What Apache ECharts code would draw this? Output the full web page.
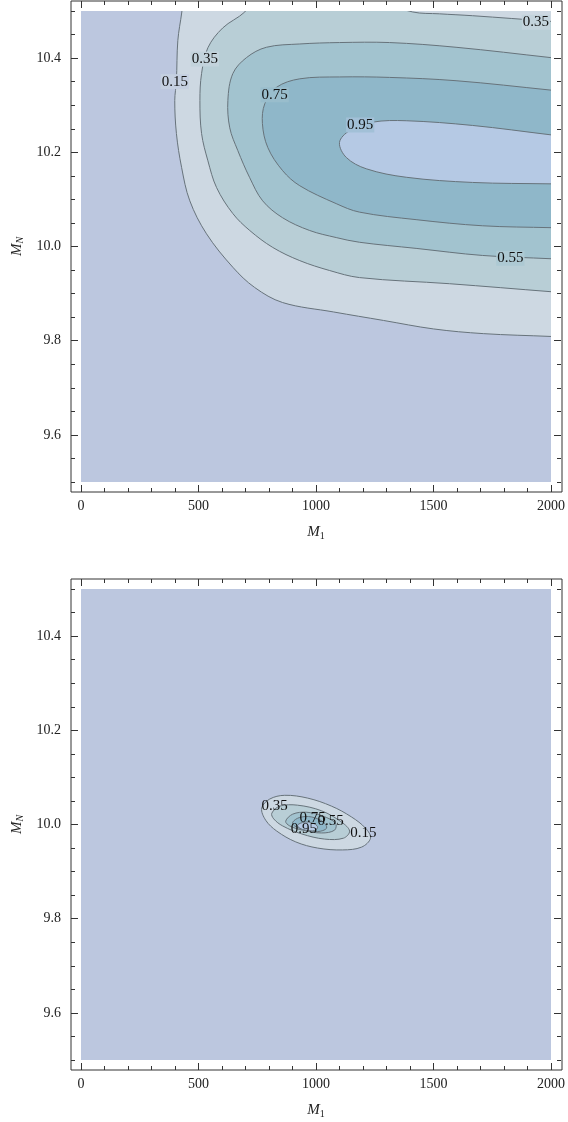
<!DOCTYPE html>
<html>
<head>
<meta charset="utf-8">
<script src="https://cdn.jsdelivr.net/npm/echarts@6/dist/echarts.min.js"></script>
<style>
  html, body { margin: 0; padding: 0; background: #fff; }
  #chart { width: 568px; height: 1122px; }
</style>
</head>
<body>
<div id="chart"></div>
<script>
// contour levels and axis ticks
const contourLevels = [0.15, 0.35, 0.55, 0.75, 0.95];
const m1MajorTicks = [0, 500, 1000, 1500, 2000];
const mnMajorTicks = [9.6, 9.8, 10.0, 10.2, 10.4];
const mnMinorTicks = [9.5, 9.55, 9.65, 9.7, 9.75, 9.85, 9.9, 9.95, 10.05, 10.1, 10.15,
  10.25, 10.3, 10.35, 10.45, 10.5];

// top panel: contour lines as [M1, MN].
// first / last points sit just past the plot edge so the clip cuts them clean
const top015 = [[433, 10.52], [429, 10.498], [412, 10.437], [406, 10.352], [399, 10.31],
  [406, 10.24], [428, 10.168], [463, 10.097], [534, 10.027], [646, 9.956], [739, 9.913],
  [858, 9.881], [1075, 9.861], [1287, 9.843], [1500, 9.825], [1712, 9.815], [2000, 9.809],
  [2030, 9.808]];
const top035 = [[720, 10.52], [697, 10.498], [603, 10.464], [540, 10.422], [513, 10.367],
  [506, 10.31], [513, 10.24], [540, 10.182], [577, 10.125], [646, 10.07], [718, 10.034],
  [816, 9.998], [931, 9.97], [1058, 9.949], [1185, 9.934], [1568, 9.921], [2000, 9.904],
  [2030, 9.903]];
const top035Corner = [[1200, 10.53], [1411, 10.498], [1525, 10.494], [1666, 10.49],
  [2000, 10.478], [2030, 10.477]];
const top055 = [[2030, 10.399], [2000, 10.401], [1596, 10.423], [1313, 10.433], [1100, 10.433],
  [931, 10.43], [789, 10.423], [704, 10.401], [646, 10.367], [625, 10.31], [633, 10.252],
  [667, 10.204], [718, 10.146], [773, 10.097], [858, 10.061], [973, 10.034], [1086, 10.019],
  [1185, 10.009], [1426, 9.996], [1708, 9.981], [2000, 9.974], [2030, 9.973]];
const top075 = [[2030, 10.33], [2000, 10.332], [1596, 10.352], [1313, 10.359], [1100, 10.36],
  [931, 10.356], [832, 10.338], [782, 10.303], [772, 10.261], [795, 10.21], [858, 10.161],
  [931, 10.129], [1086, 10.091], [1185, 10.073], [1426, 10.057], [1708, 10.044], [2000, 10.04],
  [2030, 10.04]];
const top095 = [[2030, 10.235], [2000, 10.237], [1666, 10.257], [1384, 10.267], [1241, 10.264],
  [1143, 10.246], [1100, 10.221], [1129, 10.189], [1214, 10.165], [1384, 10.147], [1666, 10.136],
  [2000, 10.133], [2030, 10.133]];
const topLabels = [[399, 10.35, 0.15], [527, 10.398, 0.35], [824, 10.322, 0.75],
  [1188, 10.258, 0.95], [1936, 10.476, 0.35], [1827, 9.975, 0.55]];

// bottom panel: closed contours
const bot015 = [[769, 10.035], [803, 10.054], [867, 10.062], [965, 10.056], [1066, 10.039],
  [1151, 10.016], [1211, 9.992], [1232, 9.971], [1194, 9.952], [1113, 9.946], [1007, 9.95],
  [914, 9.963], [833, 9.986], [786, 10.009]];
const bot035 = [[812, 10.024], [846, 10.039], [922, 10.041], [1024, 10.029], [1109, 10.005],
  [1143, 9.986], [1117, 9.971], [1037, 9.969], [939, 9.98], [858, 9.997], [820, 10.012]];
const bot055 = [[871, 10.007], [901, 10.022], [960, 10.026], [1028, 10.018], [1083, 10.003],
  [1079, 9.988], [1024, 9.982], [943, 9.988], [888, 9.997]];
const bot075 = [[901, 10.005], [931, 10.015], [981, 10.016], [1032, 10.005], [1045, 9.992],
  [1007, 9.985], [948, 9.99], [909, 9.997]];
const bot095 = [[922, 9.999], [952, 10.005], [986, 10.003], [1007, 9.995], [994, 9.987],
  [956, 9.988], [931, 9.992]];
const botLabels = [[824, 10.039, 0.35], [986, 10.014, 0.75], [1062, 10.007, 0.55],
  [948, 9.991, 0.95], [1202, 9.982, 0.15]];

// styles
const bandColors = ['#bcc7df', '#cdd8e2', '#b8ced6', '#a2c3cf', '#8fb7c9', '#b5c9e4'];
const lineColor = '#67737b';
const axisColor = '#333';
const FONT = '"Liberation Serif", "DejaVu Serif", serif';
const panelTops = [1, 579];

function mixColor(a, b) {
  const ca = [1, 3, 5].map(i => parseInt(a.substr(i, 2), 16));
  const cb = [1, 3, 5].map(i => parseInt(b.substr(i, 2), 16));
  return 'rgb(' + ca.map((v, i) => Math.round((v + cb[i]) / 2)).join(',') + ')';
}

// a contour region gets closed round the outside of the plot (clipped away later);
// the open ends are carried on in their own direction so the smoothing stays straight
const FAR_M1 = 2600, FAR_MN = 10.8;
function outward(p, q) {
  const dx = p[0] - q[0], dy = p[1] - q[1];
  const t = 0.15 / Math.max(Math.abs(dx) / 2000, Math.abs(dy), 1e-9);
  return [p[0] + dx * t, p[1] + dy * t];
}
function closeRegion(paths) {
  const out = [];
  paths.forEach((path, i) => {
    const next = paths[(i + 1) % paths.length];
    out.push(...path);
    const n = path.length;
    const a = outward(path[n - 1], path[n - 2]);
    const b = outward(next[0], next[1]);
    out.push(a);
    const aRight = a[0] > 2000 + 1e-6 && Math.abs(a[0] - path[n - 1][0]) > Math.abs(a[1] - path[n - 1][1]) * 2000;
    const bRight = b[0] > 2000 + 1e-6 && Math.abs(b[0] - next[0][0]) > Math.abs(b[1] - next[0][1]) * 2000;
    if (aRight !== bRight) out.push([FAR_M1, FAR_MN]);
    out.push(b);
  });
  return out;
}

const panels = [
  {
    regions: [
      closeRegion([top015]),
      closeRegion([top035, top035Corner.slice().reverse()]),
      closeRegion([top055]),
      closeRegion([top075]),
      closeRegion([top095])
    ],
    labels: topLabels,
    labelBg: true
  },
  {
    regions: [bot015, bot035, bot055, bot075, bot095],
    labels: botLabels,
    labelBg: false
  }
];

const grid = [], xAxis = [], yAxis = [], series = [];

const tickStyle = { color: axisColor, width: 1 };
const labelStyle = { fontFamily: FONT, fontSize: 14, color: '#222' };
const nameStyle = {
  fontFamily: FONT, fontSize: 15, color: '#222',
  rich: {
    it: { fontFamily: FONT, fontSize: 15, fontStyle: 'italic', color: '#222' },
    sub: { fontFamily: FONT, fontSize: 10, color: '#222', padding: [8, 0, 0, 0] },
    subit: { fontFamily: FONT, fontSize: 10, fontStyle: 'italic', color: '#222', padding: [8, 0, 0, 0] }
  }
};

panels.forEach((panel, p) => {
  const top = panelTops[p];
  // frame
  grid.push({ left: 71, top: top, width: 491, height: 491, show: true,
    backgroundColor: '#fff', borderColor: axisColor, borderWidth: 1 });
  // data area
  grid.push({ left: 81, top: top + 10, width: 471, height: 471, show: true,
    backgroundColor: bandColors[0], borderWidth: 0 });
  const fg = 2 * p, dg = 2 * p + 1;

  xAxis.push({ gridIndex: fg, type: 'value', show: false, min: 0, max: 1 });
  const xBase = {
    gridIndex: dg, type: 'value', min: 0, max: 2000, interval: 500, offset: 10,
    axisLine: { show: false, onZero: false },
    axisTick: { inside: true, length: 7, lineStyle: tickStyle },
    minorTick: { show: true, splitNumber: 5, length: 4, lineStyle: tickStyle },
    splitLine: { show: false }
  };
  xAxis.push(Object.assign({}, xBase, {
    position: 'bottom',
    axisLabel: Object.assign({ margin: 7, customValues: m1MajorTicks,
      formatter: v => String(v) }, labelStyle),
    name: '{it|M}{sub|1}', nameLocation: 'middle', nameGap: 31, nameTextStyle: nameStyle
  }));
  xAxis.push(Object.assign({}, xBase, { position: 'top', axisLabel: { show: false } }));

  yAxis.push({ gridIndex: fg, type: 'value', show: false, min: 0, max: 1 });
  const yBase = {
    gridIndex: dg, type: 'value', min: 9.5, max: 10.5, offset: 10,
    axisLine: { show: false, onZero: false },
    splitLine: { show: false }
  };
  yAxis.push(Object.assign({}, yBase, {
    position: 'left',
    axisTick: { inside: true, length: 7, lineStyle: tickStyle, customValues: mnMajorTicks },
    axisLabel: Object.assign({ margin: 10, customValues: mnMajorTicks,
      formatter: v => v.toFixed(1) }, labelStyle),
    name: '{it|M}{subit|N}', nameLocation: 'middle', nameGap: 43, nameTextStyle: nameStyle
  }));
  yAxis.push(Object.assign({}, yBase, {
    position: 'left', axisLabel: { show: false },
    axisTick: { inside: true, length: 4, lineStyle: tickStyle, customValues: mnMinorTicks }
  }));
  yAxis.push(Object.assign({}, yBase, {
    position: 'right', axisLabel: { show: false },
    axisTick: { inside: true, length: 7, lineStyle: tickStyle, customValues: mnMajorTicks }
  }));
  yAxis.push(Object.assign({}, yBase, {
    position: 'right', axisLabel: { show: false },
    axisTick: { inside: true, length: 4, lineStyle: tickStyle, customValues: mnMinorTicks }
  }));

  const xi = 3 * p + 1, yi = 5 * p + 1;

  panel.regions.forEach((pts, i) => {
    series.push({
      type: 'custom', xAxisIndex: xi, yAxisIndex: yi, clip: true, silent: true,
      data: [contourLevels[i]],
      renderItem: (params, api) => ({
        type: 'polygon',
        shape: { points: pts.map(pt => api.coord(pt)), smooth: 0.35 },
        style: { fill: bandColors[i + 1], stroke: lineColor, lineWidth: 1 }
      })
    });
  });

  series.push({
    type: 'custom', xAxisIndex: xi, yAxisIndex: yi, clip: true, silent: true,
    data: panel.labels,
    renderItem: (params, api) => {
      const c = api.coord([api.value(0), api.value(1)]);
      const lv = contourLevels.indexOf(api.value(2));
      const style = {
        text: api.value(2).toFixed(2), x: c[0], y: c[1],
        textAlign: 'center', textVerticalAlign: 'middle',
        font: '15px ' + FONT, fill: '#111'
      };
      if (panel.labelBg) {
        style.backgroundColor = mixColor(bandColors[lv], bandColors[lv + 1]);
        style.padding = [0, 1];
      }
      return { type: 'text', style: style };
    }
  });
});

const chart = echarts.init(document.getElementById('chart'), null, { renderer: 'canvas' });
chart.setOption({
  animation: false,
  backgroundColor: '#fff',
  grid: grid,
  xAxis: xAxis,
  yAxis: yAxis,
  series: series
});
</script>
</body>
</html>
